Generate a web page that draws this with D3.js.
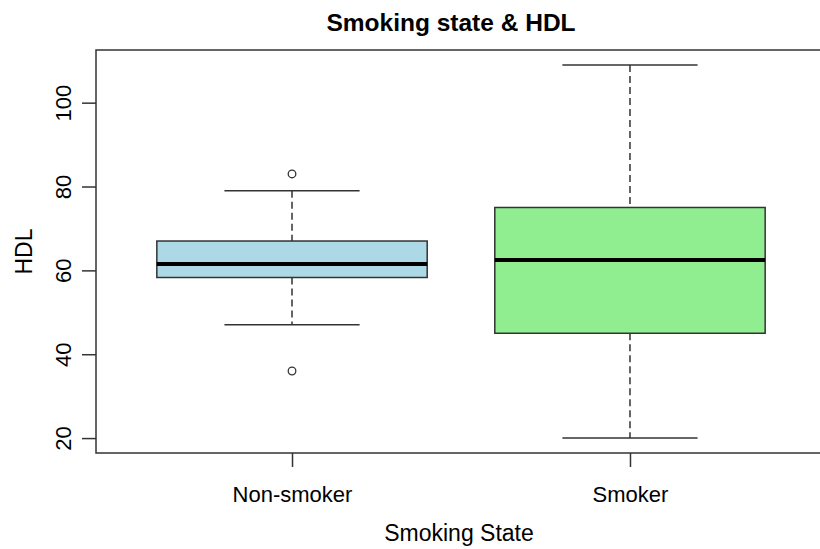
<!DOCTYPE html>
<html>
  <head>
    <style>
    body {
      font-family: "Liberation Sans", Arial, sans-serif;
      margin: 0;
      background: #fff;
    }
    text { fill: #000; }
    </style>
  </head>
  <body>
    <script src="https://cdnjs.cloudflare.com/ajax/libs/d3/7.8.5/d3.min.js"></script>
    <script>
    // boxplot stats
    var groups    = ["Non-smoker", "Smoker"];
    var fills     = ["#ADD8E6", "#90EE90"];
    var whiskLo   = [47, 20];
    var q1        = [58.3, 45];
    var medians   = [61.5, 62.5];
    var q3        = [67, 75];
    var whiskHi   = [79, 109];
    var outliers  = [[83, 36], []];
    var yTicks    = [20, 40, 60, 80, 100];

    var width = 820, height = 549;
    // plot region (window.top is reserved, so no "top" here)
    var plotL = 96, plotR = 826, plotT = 50, plotB = 453;

    var svg = d3.select("body").append("svg")
        .attr("width", width)
        .attr("height", height);

    // R style: data range padded by 4% on both sides
    var lo = d3.min(whiskLo), hi = d3.max(whiskHi), pad = (hi - lo) * 0.04;
    var y = d3.scaleLinear()
        .domain([lo - pad, hi + pad])
        .range([plotB, plotT]);

    var x = d3.scaleLinear()
        .domain([0.42, 2.58])
        .range([plotL, plotR]);

    var boxes = groups.map(function(g, i) {
      return { name: g, pos: i + 1, fill: fills[i], lo: whiskLo[i], q1: q1[i],
               med: medians[i], q3: q3[i], hi: whiskHi[i], out: outliers[i] };
    });

    var stroke = "#333";
    var bw = 0.4, cw = 0.2;

    var box = svg.selectAll(".box")
        .data(boxes)
      .enter().append("g")
        .attr("class", "box");

    // dashed whiskers
    box.append("line")
        .attr("x1", function(d) { return x(d.pos); })
        .attr("x2", function(d) { return x(d.pos); })
        .attr("y1", function(d) { return y(d.hi); })
        .attr("y2", function(d) { return y(d.q3); })
        .attr("stroke", stroke).attr("stroke-width", 1.5)
        .attr("stroke-dasharray", "7,4");
    box.append("line")
        .attr("x1", function(d) { return x(d.pos); })
        .attr("x2", function(d) { return x(d.pos); })
        .attr("y1", function(d) { return y(d.q1); })
        .attr("y2", function(d) { return y(d.lo); })
        .attr("stroke", stroke).attr("stroke-width", 1.5)
        .attr("stroke-dasharray", "7,4");

    // caps
    ["lo", "hi"].forEach(function(k) {
      box.append("line")
          .attr("x1", function(d) { return x(d.pos - cw); })
          .attr("x2", function(d) { return x(d.pos + cw); })
          .attr("y1", function(d) { return y(d[k]); })
          .attr("y2", function(d) { return y(d[k]); })
          .attr("stroke", stroke).attr("stroke-width", 1.5);
    });

    box.append("rect")
        .attr("x", function(d) { return x(d.pos - bw); })
        .attr("width", function(d) { return x(d.pos + bw) - x(d.pos - bw); })
        .attr("y", function(d) { return y(d.q3); })
        .attr("height", function(d) { return y(d.q1) - y(d.q3); })
        .attr("fill", function(d) { return d.fill; })
        .attr("stroke", stroke).attr("stroke-width", 1.5);

    box.append("line")
        .attr("x1", function(d) { return x(d.pos - bw); })
        .attr("x2", function(d) { return x(d.pos + bw); })
        .attr("y1", function(d) { return y(d.med); })
        .attr("y2", function(d) { return y(d.med); })
        .attr("stroke", "#000").attr("stroke-width", 4);

    box.selectAll(".out")
        .data(function(d) { return d.out.map(function(v) { return { pos: d.pos, v: v }; }); })
      .enter().append("circle")
        .attr("class", "out")
        .attr("cx", function(d) { return x(d.pos); })
        .attr("cy", function(d) { return y(d.v); })
        .attr("r", 3.8)
        .attr("fill", "none")
        .attr("stroke", stroke).attr("stroke-width", 1.3);

    // frame
    svg.append("rect")
        .attr("x", plotL).attr("y", plotT)
        .attr("width", plotR - plotL).attr("height", plotB - plotT)
        .attr("fill", "none")
        .attr("stroke", stroke).attr("stroke-width", 1.5);

    // axes
    var yAxis = svg.append("g")
        .attr("transform", "translate(" + plotL + ",0)")
        .call(d3.axisLeft(y).tickValues(yTicks).tickSize(14).tickSizeOuter(0));
    yAxis.select(".domain").remove();
    yAxis.selectAll("line").attr("stroke", stroke).attr("stroke-width", 1.5);
    yAxis.selectAll("text")
        .attr("x", null).attr("dy", null)
        .attr("text-anchor", "middle")
        .attr("transform", "translate(-25,0) rotate(-90)")
        .style("font-family", "'Liberation Sans', Arial, sans-serif")
        .style("font-size", "22px");

    var xAxis = svg.append("g")
        .attr("transform", "translate(0," + plotB + ")")
        .call(d3.axisBottom(x).tickValues(boxes.map(function(d) { return d.pos; }))
              .tickFormat(function(d) { return groups[d - 1]; })
              .tickSize(14).tickSizeOuter(0));
    xAxis.select(".domain").remove();
    xAxis.selectAll("line").attr("stroke", stroke).attr("stroke-width", 1.5);
    xAxis.selectAll("text")
        .attr("y", 48.7).attr("dy", null)
        .style("font-family", "'Liberation Sans', Arial, sans-serif")
        .style("font-size", "22px");

    // titles
    svg.append("text")
        .attr("x", 451).attr("y", 31)
        .attr("text-anchor", "middle")
        .style("font-size", "24.5px")
        .style("font-weight", "bold")
        .text("Smoking state & HDL");

    svg.append("text")
        .attr("x", 459).attr("y", 541)
        .attr("text-anchor", "middle")
        .style("font-size", "23px")
        .text("Smoking State");

    svg.append("text")
        .attr("transform", "translate(31.5," + (plotT + plotB) / 2 + ") rotate(-90)")
        .attr("text-anchor", "middle")
        .style("font-size", "23px")
        .text("HDL");
    </script>
  </body>
</html>
